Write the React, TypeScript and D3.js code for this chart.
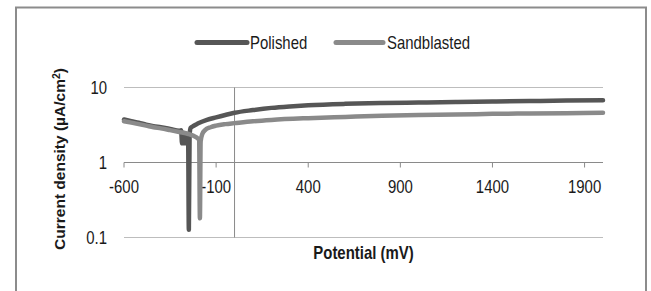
import React from "react";
import * as d3 from "d3";

const xTicks = [-600, -100, 400, 900, 1400, 1900];
const yTicks = [0.1, 1, 10];
const yTickLabels = ["0.1", "1", "10"];
const seriesNames = ["Polished", "Sandblasted"];

const polishedMv = [-600, -560, -520, -480, -440, -400, -350, -300, -290, -285, -278, -270, -262, -256, -252, -248, -244, -238, -230, -200, -150, -100, -50, 0, 100, 200, 300, 400, 600, 800, 1000, 1200, 1400, 1600, 1800, 2000];
const polishedI = [3.75, 3.55, 3.4, 3.2, 3.05, 2.95, 2.8, 2.65, 2.7, 1.8, 2.5, 1.8, 2.4, 1.9, 2.2, 0.127, 2.3, 2.9, 3.0, 3.3, 3.7, 4.0, 4.3, 4.6, 5.0, 5.35, 5.6, 5.8, 6.05, 6.2, 6.3, 6.4, 6.5, 6.6, 6.7, 6.75];

const sandMv = [-600, -560, -520, -480, -440, -400, -350, -300, -250, -220, -200, -192, -188, -184, -175, -160, -130, -100, -50, 0, 100, 200, 400, 600, 800, 1000, 1200, 1400, 1600, 1800, 2000];
const sandI = [3.55, 3.4, 3.25, 3.1, 2.95, 2.85, 2.7, 2.55, 2.4, 2.25, 2.1, 2.0, 0.18, 1.9, 2.4, 2.7, 2.95, 3.1, 3.25, 3.35, 3.55, 3.7, 3.9, 4.05, 4.2, 4.3, 4.35, 4.45, 4.5, 4.55, 4.6];

const colors = ["#565656", "#8a8a8a"];

const FONT = "'Liberation Sans', Arial, sans-serif";

function Label(props: { x: number; y: number; text: React.ReactNode; anchor?: string; size?: number; weight?: string; sx?: number; rot?: number }) {
  const { x, y, text, anchor = "middle", size = 18, weight = "normal", sx = 0.83, rot = 0 } = props;
  return (
    <text
      transform={`translate(${x},${y}) rotate(${rot}) scale(${sx},1)`}
      textAnchor={anchor}
      fontFamily={FONT}
      fontSize={size}
      fontWeight={weight}
      fill="#1a1a1a"
    >
      {text}
    </text>
  );
}

export default function App() {
  const W = 651, H = 291;
  const x = d3.scaleLinear().domain([-600, 2000]).range([124, 603]);
  const y = d3.scaleLog().domain([0.1, 10]).range([237.5, 87.5]);
  const line = d3
    .line<[number, number]>()
    .x((d) => x(d[0]))
    .y((d) => y(d[1]))
    .curve(d3.curveMonotoneX);
  const polished: [number, number][] = polishedMv.map((v, i) => [v, polishedI[i]]);
  const sand: [number, number][] = sandMv.map((v, i) => [v, sandI[i]]);
  const x0 = x.range()[0], x1 = x.range()[1];

  return (
    <div style={{ position: "fixed", left: 0, top: 0, width: W, height: H, background: "#fff" }}>
      <svg width={W} height={H} style={{ display: "block" }}>
        <rect x={0} y={0} width={W} height={H} fill="#fff" />
        <rect x={16} y={7.5} width={630} height={300} fill="none" stroke="#8c8c8c" strokeWidth={2} />

        {[0.1, 10].map((t) => (
          <line key={t} x1={x0} x2={x1} y1={y(t)} y2={y(t)} stroke="#bdbdbd" strokeWidth={1} />
        ))}
        <line x1={x(0)} x2={x(0)} y1={y(10)} y2={y(0.1)} stroke="#8a8a8a" strokeWidth={1} />
        <line x1={x0} x2={x1} y1={y(1)} y2={y(1)} stroke="#8a8a8a" strokeWidth={1} />
        {xTicks.map((t) => (
          <line key={t} x1={x(t)} x2={x(t)} y1={y(1)} y2={y(1) + 5} stroke="#8a8a8a" strokeWidth={1} />
        ))}

        {xTicks.map((t) => (
          <Label key={t} x={x(t)} y={192.5} text={String(t)} />
        ))}
        {yTicks.map((t, i) => (
          <Label key={t} x={107} y={y(t) + 6.5} text={yTickLabels[i]} anchor="end" />
        ))}

        <path d={line(polished) || ""} fill="none" stroke={colors[0]} strokeWidth={4.5} strokeLinejoin="round" strokeLinecap="round" />
        <path d={line(sand) || ""} fill="none" stroke={colors[1]} strokeWidth={4.5} strokeLinejoin="round" strokeLinecap="round" />

        <line x1={197} x2={247} y1={42.5} y2={42.5} stroke={colors[0]} strokeWidth={5} strokeLinecap="round" />
        <Label x={250} y={49} text={seriesNames[0]} anchor="start" />
        <line x1={336} x2={383} y1={42.5} y2={42.5} stroke={colors[1]} strokeWidth={5} strokeLinecap="round" />
        <Label x={387} y={49} text={seriesNames[1]} anchor="start" />

        <Label x={(x0 + x1) / 2} y={259} text="Potential (mV)" weight="bold" />
        <Label
          x={65}
          y={159}
          rot={-90}
          size={15.5}
          sx={1}
          weight="bold"
          text={
            <>
              Current density (µA/cm
              <tspan dy={-5} fontSize={10.5}>2</tspan>
              <tspan dy={5}>)</tspan>
            </>
          }
        />
      </svg>
    </div>
  );
}
